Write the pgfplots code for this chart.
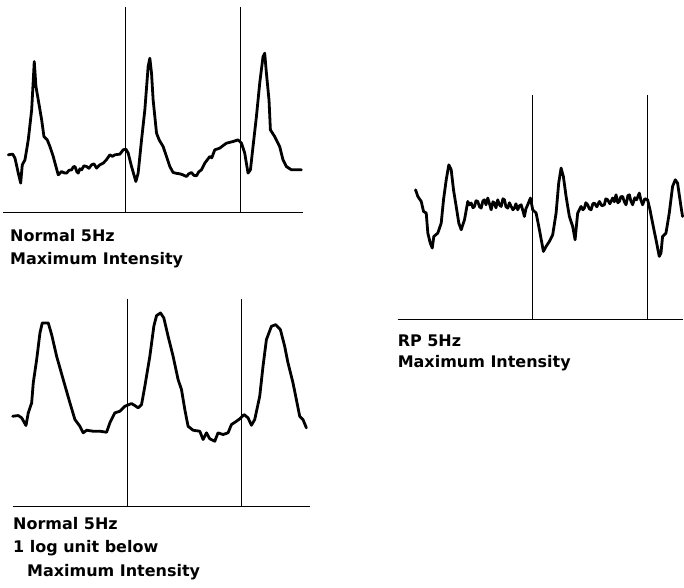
\documentclass[border=0pt]{standalone}
\usepackage{pgfplots}
\pgfplotsset{compat=1.18}
\usepackage{fontspec}
\setmainfont{DejaVu Sans}
\begin{document}
\begin{tikzpicture}
\begin{axis}[
  scale only axis, width=684bp, height=588bp,
  xmin=0, xmax=684, ymin=0, ymax=588, y dir=reverse,
  hide axis, clip=false,
]
\path (axis cs:0,0) rectangle (axis cs:684,588);
% baselines
\addplot[black, line width=1.5bp] coordinates {(3,212.5) (303,212.5)};
\addplot[black, line width=1.5bp] coordinates {(13,507) (310,507)};
\addplot[black, line width=1.5bp] coordinates {(398,320) (684,320)};
% vertical markers
\addplot[black, line width=1bp] coordinates {(125.7,7) (125.7,212.5)};
\addplot[black, line width=1bp] coordinates {(240.7,7) (240.7,212.5)};
\addplot[black, line width=1bp] coordinates {(127.7,299) (127.7,507)};
\addplot[black, line width=1bp] coordinates {(241.3,299) (241.3,507)};
\addplot[black, line width=1bp] coordinates {(533.3,95) (533.3,320)};
\addplot[black, line width=1bp] coordinates {(647.7,95) (647.7,320)};
% Panel 1: Normal 5Hz maximum intensity
\addplot[black, line width=2.8bp, line join=round, line cap=round] coordinates {
(8.3,155) (12.7,154.3) (15,158.3) (18.3,173.3) (20.7,183.3) (22.3,165) (25,160)
(28.3,140) (31.7,110) (34.3,61.7) (36,86.7) (38.3,100) (41.7,120) (44,136.7)
(47.3,140) (50,146.7) (53.3,156.7) (56,166.7) (58.3,175) (61.7,171.7) (64,173)
(66.7,173.3) (69,170.5) (71.7,170) (73.5,167) (75,166.7) (77,172) (78.3,173.3)
(80,169) (81.7,170) (84,166) (86.7,166.7) (89,168.5) (91.7,165) (94,164)
(96.7,168.3) (100,165) (103.3,163.3) (106.5,160) (110,155) (112.5,156.5) (115,155)
(120,154.3) (123.3,150) (126,149.3) (128.3,153.3) (131.7,166.7) (136,181.7)
(138.3,173.3) (141.7,140) (145,110) (148.3,66.7) (150,58.3) (151.7,73.3)
(153.3,100) (156.7,133.3) (159.3,140) (163.3,146.7) (166.7,156.7) (170,166.7)
(173.3,172.7) (176.5,173.5) (180,174) (183,175) (186.7,176.7) (189,174) (191.7,172.7)
(194,175.5) (196.7,176) (199,172) (201.7,170) (205,163.3) (207.5,160) (210,156.7)
(212,158) (215,150) (220,148.3) (223,146) (226.7,143.3) (230,142.5) (233.3,141.7)
(238.3,140) (241.7,143.3) (245,153.3) (248.3,173.3) (250.7,170) (253.3,146.7)
(256.7,116.7) (260,83.3) (263.3,56.7) (265,53.3) (266.7,73.3) (269.3,100)
(270.7,130) (275,136.7) (280,146.7) (283.3,160) (286.7,166.7) (291.7,170)
(301.7,170)};
% Panel 2: Normal 5Hz 1 log unit below
\addplot[black, line width=2.8bp, line join=round, line cap=round] coordinates {
(12.7,416.7) (18.3,416) (21.7,418.3) (26,426) (28.3,413.3) (31.7,403.3)
(33.3,383.3) (36.7,360) (40,333.3) (42.3,323.3) (48.3,323.3) (51.7,335)
(56.7,356.7) (63.3,380) (70,403.3) (75,420) (80,426.7) (83.3,433.3) (86.7,430.7)
(93.3,431.7) (100,431.7) (106.7,432.7) (110,423.3) (115,413.3) (120,411.7)
(125,406.7) (131.7,404) (135,406) (138.3,408.3) (141.7,405) (145,386.7)
(150,356.7) (154,326.7) (156.7,316) (160.7,313.3) (164,318.3) (168.3,336.7)
(173.3,356.7) (178.3,380) (181.7,390) (185,410) (188.3,426.7) (193.3,430.7)
(200,431.7) (203.3,440) (206.7,433.3) (210,439.3) (215,441.7) (218.3,433.3)
(223.3,435) (228.3,433.3) (231.7,425) (236.7,421.7) (240,419.3) (244.3,415)
(248.3,418.3) (251.7,425.7) (255,420) (260,396.7) (263.3,366.7) (266.7,340)
(271.7,326.7) (276,325) (280.7,330) (285,346.7) (288.3,363.3) (293.3,383.3)
(296.7,400) (300,416.7) (303.3,420) (306.7,428.3)};
% Panel 3: RP 5Hz maximum intensity
\addplot[black, line width=2.8bp, line join=round, line cap=round] coordinates {
(416,190) (418.3,196.7) (421.7,201.7) (424,211.7) (426.7,213.3) (428.3,233.3)
(430.7,243.3) (432.7,248.3) (434.3,236.7) (438.3,233.3) (441.7,223.3) (444,200)
(446.7,180) (449.3,165) (451.7,170) (454,190) (456.7,206.7) (459.3,223.3)
(461.7,230) (465,220) (468.3,201.7) (470,205) (471.7,203.3) (473.5,208) (475,206.7)
(476.5,201) (478.3,201.7) (480,207) (481.7,208.3) (483.5,201) (485,200)
(486.5,205) (488.3,198.3) (490,204) (491.7,210) (493.5,202) (495,203.3)
(496.5,208) (498.3,200) (500,205) (501.7,206.7) (503.5,199) (505,200)
(506.5,207) (508.3,208.3) (510,203) (511.7,206.7) (513.5,210) (515,208.3)
(516.5,204) (518.3,210) (520,206) (521.7,205) (523.5,211) (525,216.7)
(526.5,209) (528.3,205) (531,198.3) (533.3,210) (536.7,213.3) (540,230)
(544,251.7) (546.7,246.7) (550,241.7) (553.3,235) (556.7,213.3) (559.3,183.3)
(561.7,168.3) (564,176.7) (566.7,196.7) (570,216.7) (573.3,226.7) (575.7,240)
(578.3,213.3) (581.7,206.7) (583.5,210) (585,208.3) (586.5,203) (588.3,205)
(590,209) (591.7,210) (593.5,204) (595,203.3) (597.5,207) (600,201.7)
(602.5,206) (605,205) (606.5,199) (608.3,200) (610.5,204) (613.3,198.3)
(615,202) (616.7,195) (618.5,203) (620,201.7) (621.5,197) (623.3,196.7)
(625,202) (626.7,205) (628.5,196) (630,195) (631.5,201) (633.3,205)
(635.5,198) (637.3,200) (640,193.3) (641.5,200) (643.3,205) (645.5,199)
(648.3,200) (650.7,210) (653.3,223.3) (656.7,240) (660,256.7) (661.7,253.3)
(663.3,236.7) (666.7,233.3) (670,213.3) (673.3,186.7) (676,180) (678.3,183.3)
(681.7,206.7) (683.3,216.7)};
% labels
\node[anchor=base west, inner sep=0pt, font=\fontsize{16bp}{18bp}\selectfont\bfseries] at (axis cs:10,242) {Normal 5Hz};
\node[anchor=base west, inner sep=0pt, font=\fontsize{16bp}{18bp}\selectfont\bfseries] at (axis cs:10,265) {Maximum Intensity};
\node[anchor=base west, inner sep=0pt, font=\fontsize{16bp}{18bp}\selectfont\bfseries] at (axis cs:13,530) {Normal 5Hz};
\node[anchor=base west, inner sep=0pt, font=\fontsize{16bp}{18bp}\selectfont\bfseries] at (axis cs:13,553) {1 log unit below};
\node[anchor=base west, inner sep=0pt, font=\fontsize{16bp}{18bp}\selectfont\bfseries] at (axis cs:27,577) {Maximum Intensity};
\node[anchor=base west, inner sep=0pt, font=\fontsize{16bp}{18bp}\selectfont\bfseries] at (axis cs:398,347) {RP 5Hz};
\node[anchor=base west, inner sep=0pt, font=\fontsize{16bp}{18bp}\selectfont\bfseries] at (axis cs:398,368) {Maximum Intensity};
\end{axis}
\end{tikzpicture}
\end{document}
